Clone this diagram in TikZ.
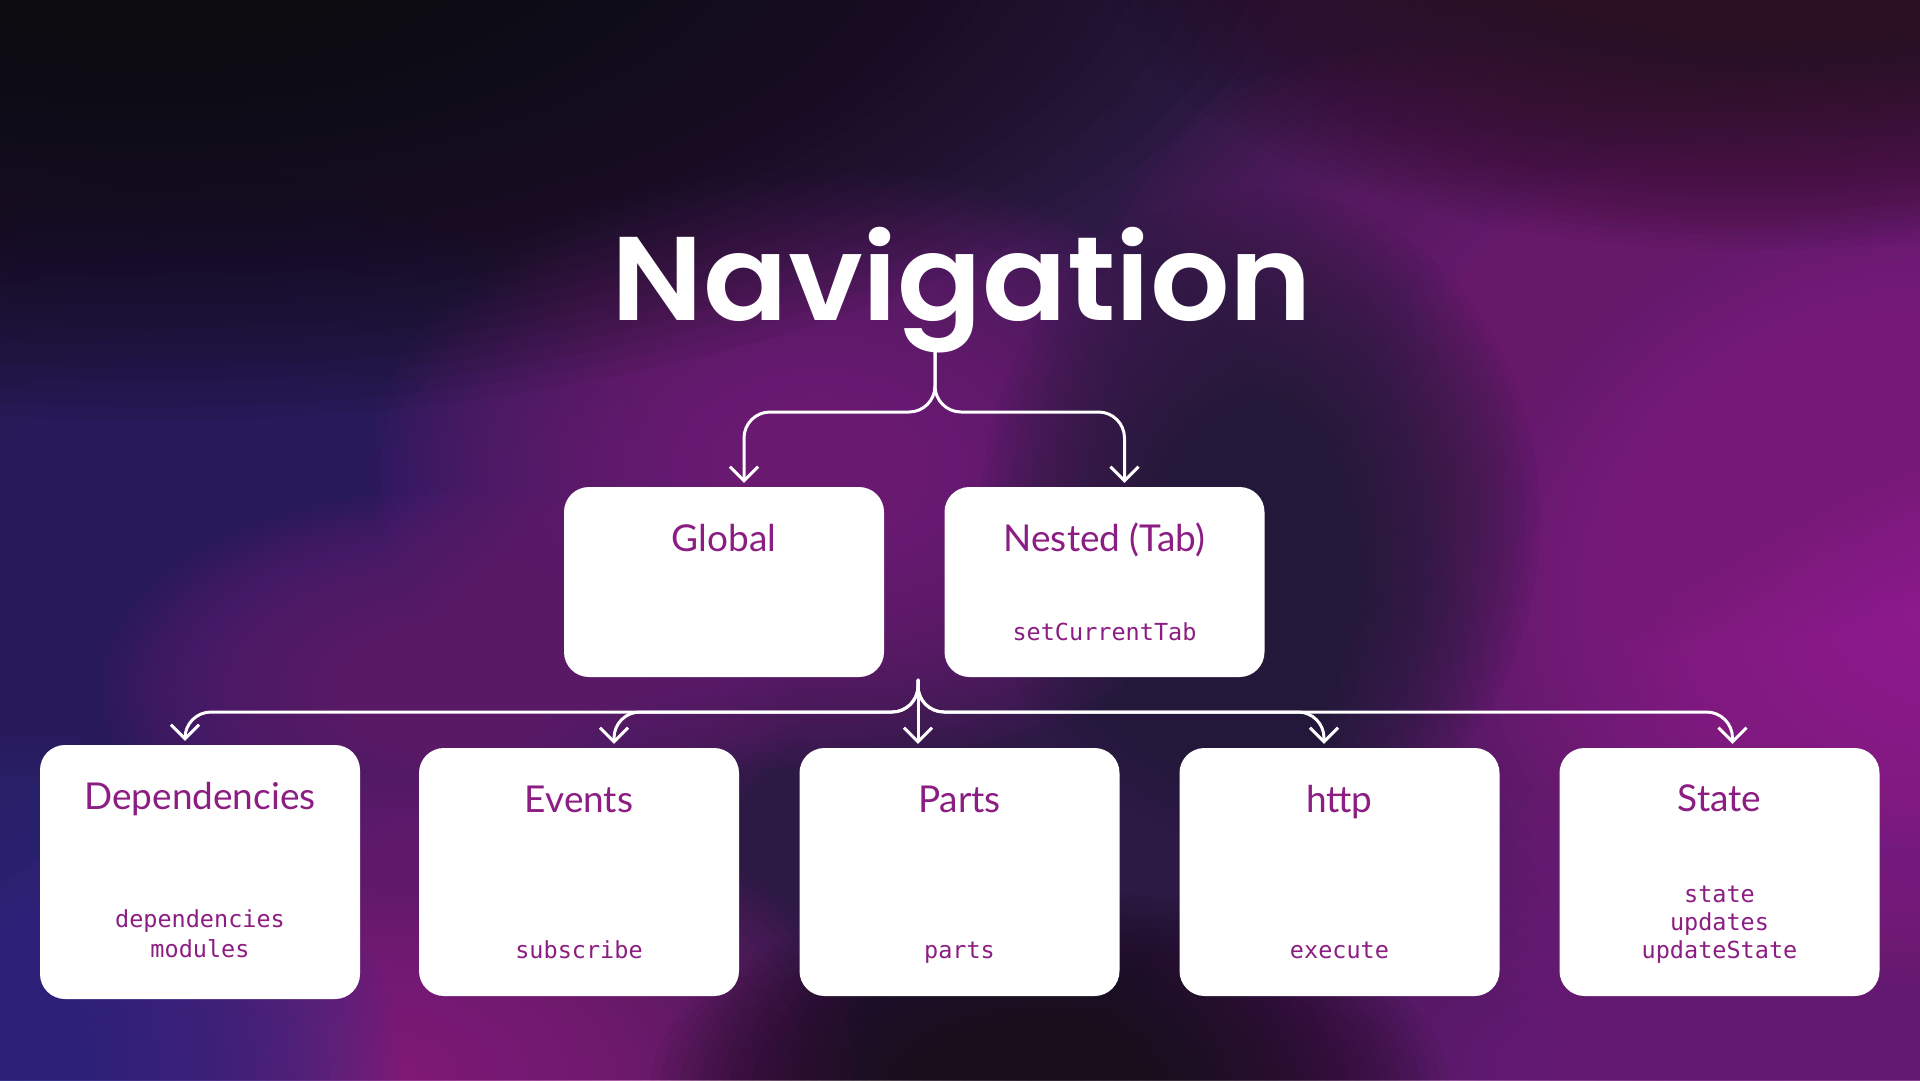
\documentclass[tikz,border=0pt]{standalone}
\usepackage{fontspec}
\usepackage{graphicx}
\usetikzlibrary{arrows.meta}

\newfontfamily\headfont{Poppins SemiBold}
\newfontfamily\labelfont{Lato}
\newfontfamily\codefont{DejaVu Sans Mono}

\definecolor{ink}{HTML}{8C1D82}
\definecolor{bgbase}{HTML}{2C1944}
\definecolor{navyleft}{HTML}{28266A}
\definecolor{violetcentre}{HTML}{7A2280}
\definecolor{violetmid}{HTML}{6A2075}
\definecolor{darkspot}{HTML}{24183A}
\definecolor{violetupper}{HTML}{762079}
\definecolor{magentaright}{HTML}{A0249A}
\definecolor{magentalow}{HTML}{8E2084}
\definecolor{bluecorner}{HTML}{2C3088}
\definecolor{darklow}{HTML}{1A0E1C}
\definecolor{violetlow}{HTML}{742080}
\definecolor{nighttop}{HTML}{0D0C10}
\definecolor{maroontop}{HTML}{2A1020}

% soft glow: a stack of faint concentric ellipses, fading out at the rim
\newcommand\glowat[5]{%
  \foreach \k in {1,...,40}{%
    \fill[#5, opacity=0.06] (#1,#2) ellipse [x radius={#3pt/40*\k}, y radius={#4pt/40*\k}];}}

\tikzset{
  card/.style={fill=white, rounded corners=25pt, minimum width=320pt, inner sep=0pt},
  head/.style={text=ink, font=\labelfont\fontsize{37}{37}\selectfont, anchor=base, inner sep=0pt},
  code/.style={text=ink, font=\codefont\fontsize{23.5}{23.5}\selectfont, anchor=base, inner sep=0pt},
  link/.style={draw=white, line width=3pt, rounded corners=26pt, shorten >=4pt,
    line cap=round, line join=round, -{Straight Barb[length=14pt,width=28pt]}},
  heading/.style={text=white, font=\headfont\fontsize{119}{119}\selectfont, anchor=base, inner sep=0pt}
}

\begin{document}
\begin{tikzpicture}[x=1pt,y=-1pt]
  \useasboundingbox (0,0) rectangle (1920,1080);

  % background
  \fill[bgbase] (0,0) rectangle (1920,1080);
  \glowat{200}{620}{500}{450}{navyleft}
  \glowat{1950}{600}{650}{550}{magentaright}
  \glowat{1650}{310}{560}{340}{violetupper}
  \glowat{820}{470}{450}{300}{violetcentre}
  \glowat{450}{690}{350}{200}{violetmid}
  \glowat{380}{1080}{500}{300}{magentalow}
  \glowat{0}{1080}{400}{350}{bluecorner}
  \glowat{1700}{1080}{600}{300}{violetlow}
  \glowat{1260}{520}{280}{330}{darkspot}
  \glowat{1050}{1090}{400}{200}{darklow}
  \glowat{1750}{-50}{650}{300}{maroontop}
  \glowat{150}{-100}{1150}{520}{nighttop}

  % title
  \node[heading] (nav) at (962,320) {\scalebox{1.05}[1]{Navigation}};

  % cards, first row
  \node[card, minimum height=190pt] (global) at (724,582) {};
  \node[card, minimum height=190pt] (nested) at (1104.5,582) {};
  % cards, second row
  \node[card, minimum height=254pt] (deps) at (200,872) {};
  \node[card, minimum height=248pt] (events) at (579,872) {};
  \node[card, minimum height=248pt] (parts) at (959.5,872) {};
  \node[card, minimum height=248pt] (http) at (1339.5,872) {};
  \node[card, minimum height=248pt] (state) at (1719.5,872) {};

  % card headings
  \node[head] (globalhead) at ([yshift=-65pt]global.north) {Global};
  \node[head] (nestedhead) at ([yshift=-65pt]nested.north) {Nested (Tab)};
  \node[head] (depshead) at ([yshift=-65pt]deps.north) {Dependencies};
  \node[head] (eventshead) at ([yshift=-65pt]events.north) {Events};
  \node[head] (partshead) at ([yshift=-65pt]parts.north) {Parts};
  \node[head] (httphead) at ([yshift=-65pt]http.north) {http};
  \node[head] (statehead) at ([yshift=-64pt]state.north) {State};

  % card members
  \node[code] (nestedc1) at ([yshift=37pt]nested.south) {setCurrentTab};
  \node[code] (depsc1) at ([yshift=72pt]deps.south) {dependencies};
  \node[code] (depsc2) at ([yshift=42pt]deps.south) {modules};
  \node[code] (eventsc1) at ([yshift=38pt]events.south) {subscribe};
  \node[code] (partsc1) at ([yshift=38pt]parts.south) {parts};
  \node[code] (httpc1) at ([yshift=38pt]http.south) {execute};
  \node[code] (statec1) at ([yshift=94pt]state.south) {state};
  \node[code] (statec2) at ([yshift=66pt]state.south) {updates};
  \node[code] (statec3) at ([yshift=38pt]state.south) {updateState};

  % connectors from the title
  \coordinate (navroot) at (935,342);
  \coordinate (topbus) at (935,412);
  \draw[link] (navroot) -- (topbus) -| ([xshift=20pt]global.north);
  \draw[link] (navroot) -- (topbus) -| ([xshift=20pt]nested.north);

  % connectors to the second row
  \coordinate (hub) at (918,680);
  \coordinate (bus) at (918,712);
  \draw[link] (hub) -- (bus) -| ([xshift=-15pt]deps.north);
  \draw[link] (hub) -- (bus) -| ([xshift=35pt]events.north);
  \draw[link] (hub) -- (hub |- parts.north);
  \draw[link] (hub) -- (bus) -| ([xshift=-15.5pt]http.north);
  \draw[link] (hub) -- (bus) -| ([xshift=13pt]state.north);
\end{tikzpicture}
\end{document}
